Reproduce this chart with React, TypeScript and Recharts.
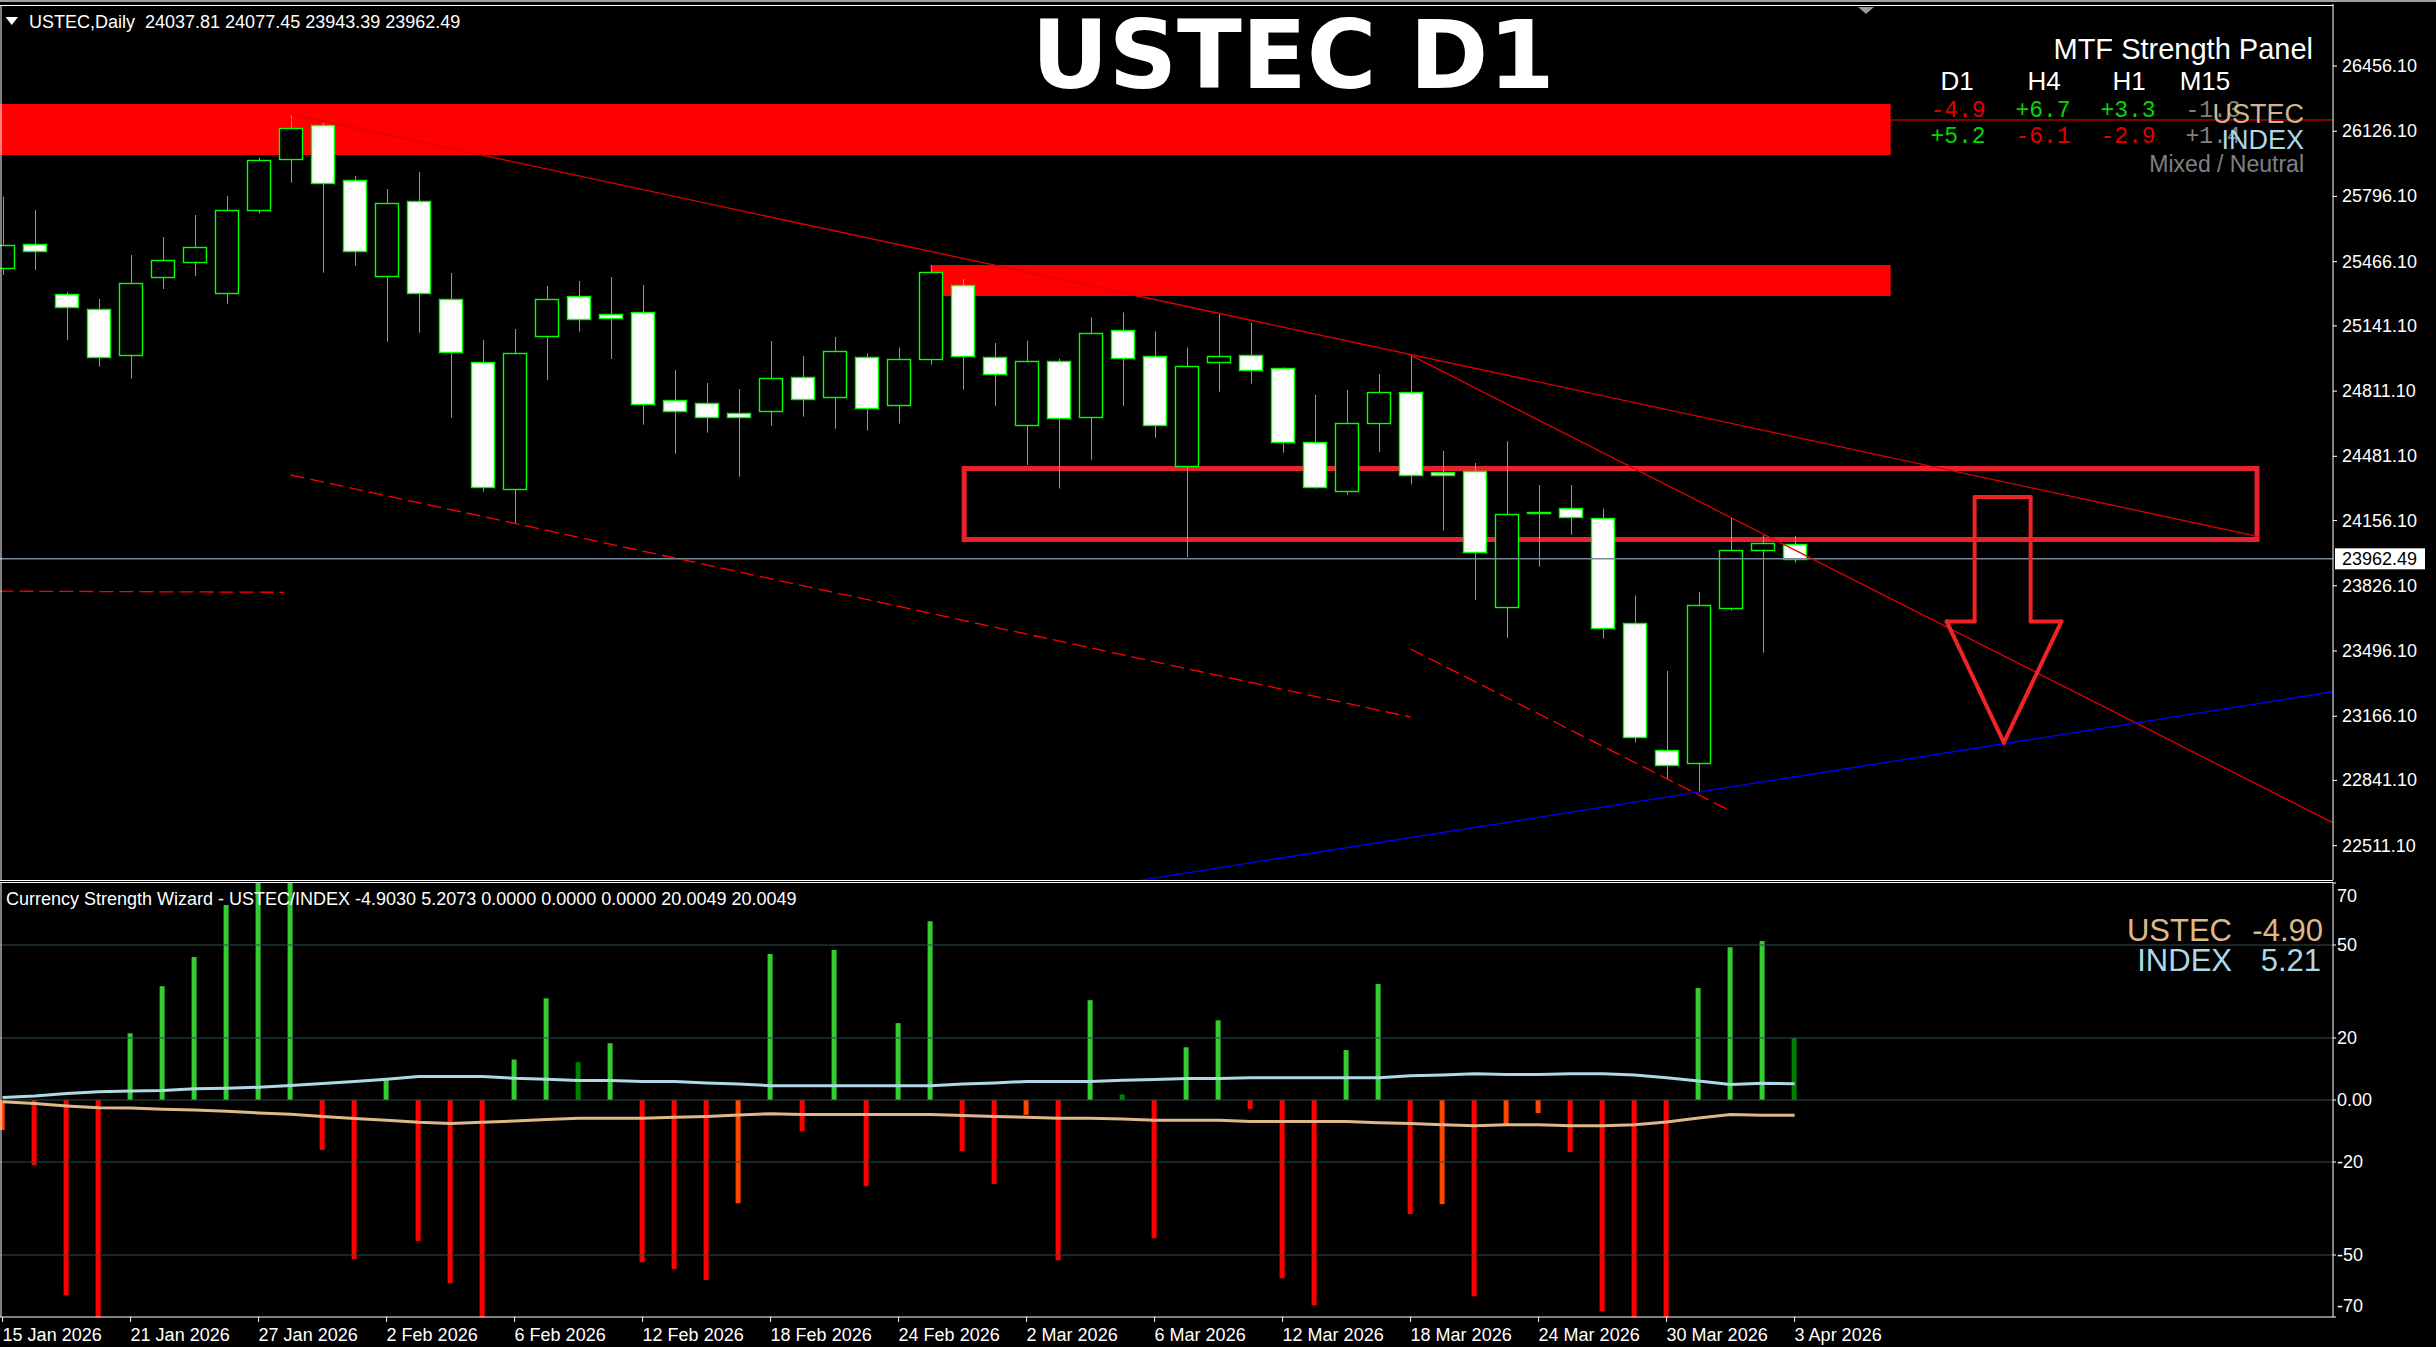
import React from 'react';
import { ComposedChart, Bar, Line, XAxis, YAxis, ReferenceLine, ReferenceArea, Cell } from 'recharts';

// ---------- data ----------
const DATE_LABELS = ['15 Jan 2026', '21 Jan 2026', '27 Jan 2026', '2 Feb 2026', '6 Feb 2026', '12 Feb 2026', '18 Feb 2026', '24 Feb 2026', '2 Mar 2026', '6 Mar 2026', '12 Mar 2026', '18 Mar 2026', '24 Mar 2026', '30 Mar 2026', '3 Apr 2026'];
const TICK_BARS = [0, 4, 8, 12, 16, 20, 24, 28, 32, 36, 40, 44, 48, 52, 56];

const OPEN = [25432.5, 25553.9, 25300.9, 25225.0, 24992.2, 25389.9, 25465.8, 25305.9, 25729.0, 25984.0, 26156.0, 25877.7, 25395.0, 25771.4, 25275.6, 24956.8, 24314.1, 25088.3, 25290.8, 25199.7, 25209.8, 24764.5, 24749.3, 24698.8, 24708.9, 24880.9, 24779.7, 24982.1, 24738.7, 24971.5, 25345.9, 24982.1, 24637.6, 24965.9, 24678.5, 25122.3, 24987.2, 24432.1, 24957.3, 24992.8, 24926.9, 24552.5, 24307.6, 24648.2, 24804.5, 24401.8, 24406.8, 23720.2, 24195.0, 24217.1, 24167.5, 23636.7, 22997.6, 22930.4, 23711.1, 24006.1, 24037.81];
const HIGH = [25794.8, 25727.5, 25311.0, 25277.1, 25499.8, 25590.8, 25702.1, 25798.3, 25992.3, 26213.2, 26169.2, 25899.5, 25833.7, 25919.7, 25408.7, 25069.7, 25125.4, 25342.9, 25368.2, 25388.4, 25348.0, 24917.9, 24852.1, 24821.7, 25064.6, 24988.7, 25084.9, 25001.3, 25031.7, 25449.2, 25378.3, 25054.5, 25065.6, 24975.0, 25184.5, 25209.3, 25113.3, 25031.7, 25200.2, 25157.7, 24930.5, 24791.8, 24816.7, 24896.6, 24992.8, 24508.0, 24447.3, 24557.6, 24335.9, 24335.9, 24217.1, 23776.8, 23395.3, 23794.6, 24172.5, 24081.9, 24077.45];
const LOW = [25398.6, 25423.9, 25069.7, 24934.5, 24873.8, 25327.7, 25393.5, 25253.3, 25708.8, 25865.6, 25410.2, 25445.6, 25061.0, 25106.5, 24676.5, 24302.1, 24142.0, 24867.3, 25111.6, 24973.5, 24641.0, 24494.4, 24600.6, 24378.0, 24636.0, 24682.0, 24619.9, 24611.2, 24646.6, 24944.6, 24818.6, 24735.7, 24437.1, 24318.3, 24463.4, 24735.7, 24575.2, 23971.6, 24808.1, 24849.1, 24499.4, 24318.3, 24286.3, 24502.9, 24339.5, 24105.3, 23754.1, 23562.3, 23922.7, 24083.9, 23558.7, 23033.0, 22845.3, 22782.6, 23700.4, 23487.4, 23943.39];
const CLOSE = [25548.9, 25518.4, 25235.1, 24982.2, 25356.5, 25472.9, 25538.7, 25725.9, 25979.0, 26140.9, 25862.6, 25521.5, 25761.4, 25305.9, 25007.4, 24324.4, 25002.4, 25275.6, 25174.4, 25179.5, 24744.3, 24708.9, 24678.5, 24678.5, 24875.9, 24769.2, 25011.9, 24728.1, 24971.5, 25411.7, 24987.2, 24900.1, 24965.9, 24673.0, 25102.6, 24976.6, 24637.6, 24936.1, 24987.2, 24919.9, 24552.5, 24326.8, 24648.2, 24804.5, 24389.0, 24389.0, 23995.4, 24188.6, 24199.0, 24172.5, 23613.4, 23063.3, 22921.2, 23727.3, 24006.1, 24041.6, 23962.49];

const HIST = [-9.7, -21.0, -63.0, -75, 21.5, 36.7, 46.1, 62.9, 75, 75, -16.1, -51.4, 6.4, -45.5, -59.1, -75, 13.1, 32.8, 12.2, 18.3, -52.3, -54.5, -58.1, -33.3, 47.1, -10.0, 48.4, -27.8, 24.8, 57.7, -16.5, -27.1, -4.8, -51.7, 32.2, 1.8, -44.6, 17.0, 25.7, -2.9, -57.5, -66.2, 16.1, 37.4, -36.8, -33.6, -63.3, -7.8, -4.2, -16.8, -68.2, -75, -75, 36.1, 49.3, 51.3, 20.0];
const HIST_TONE = ['weakDown', 'down', 'down', 'down', 'up', 'up', 'up', 'up', 'up', 'up', 'down', 'down', 'up', 'down', 'down', 'down', 'up', 'up', 'weakUp', 'up', 'down', 'down', 'down', 'weakDown', 'up', 'down', 'up', 'down', 'up', 'up', 'down', 'down', 'weakDown', 'down', 'up', 'weakUp', 'down', 'up', 'up', 'down', 'down', 'down', 'up', 'up', 'down', 'weakDown', 'down', 'weakDown', 'weakDown', 'down', 'down', 'down', 'down', 'up', 'up', 'up', 'weakUp'];
const INDEX_LINE = [0.8, 1.3, 2.1, 2.7, 2.9, 3.1, 3.6, 3.8, 4.1, 4.7, 5.3, 6.0, 6.7, 7.6, 7.6, 7.6, 7.0, 6.7, 6.3, 6.3, 6.0, 6.0, 5.5, 5.2, 4.6, 4.6, 4.6, 4.6, 4.6, 4.6, 5.2, 5.5, 6.0, 6.0, 6.0, 6.4, 6.6, 6.9, 6.9, 7.2, 7.2, 7.2, 7.2, 7.2, 7.8, 8.1, 8.5, 8.2, 8.2, 8.5, 8.5, 8.1, 7.2, 6.1, 5.0, 5.4, 5.21];
const USTEC_LINE = [-0.6, -1.1, -1.9, -2.5, -2.6, -3.0, -3.2, -3.6, -4.2, -4.6, -5.3, -6.0, -6.5, -7.2, -7.6, -7.2, -6.8, -6.3, -5.9, -5.9, -5.9, -5.6, -5.3, -4.8, -4.4, -4.7, -4.7, -4.7, -4.7, -4.7, -5.0, -5.3, -5.6, -5.9, -5.9, -6.1, -6.5, -6.5, -6.5, -6.9, -6.9, -6.9, -6.9, -7.3, -7.6, -8.0, -8.3, -8.0, -8.0, -8.3, -8.3, -8.0, -7.1, -5.8, -4.7, -4.9, -4.9];

const PRICE_TICKS = [26456.1, 26126.1, 25796.1, 25466.1, 25141.1, 24811.1, 24481.1, 24156.1, 23826.1, 23496.1, 23166.1, 22841.1, 22511.1];
const IND_TICKS = [70, 50, 20, 0, -20, -50, -70];
const IND_LEVELS = [50, 20, 0, -20, -50];
const CURRENT_PRICE = 23962.49;
const RESIST_LEVEL = 26183;
const HEADER_OHLC = [24037.81, 24077.45, 23943.39, 23962.49];
const IND_HEADER_VALUES = ['-4.9030', '5.2073', '0.0000', '0.0000', '0.0000', '20.0049', '20.0049'];
const MTF_FRAMES = ['D1', 'H4', 'H1', 'M15'];
const MTF_USTEC = [-4.9, 6.7, 3.3, -1.3];
const MTF_INDEX = [5.2, -6.1, -2.9, 1.4];
const STRENGTH_USTEC = -4.9;
const STRENGTH_INDEX = 5.21;

// annotations in (bar index, price)
const ZONES = [
  { i1: -0.1, i2: 59, p1: 26005.8, p2: 26263.8 },
  { i1: 29, i2: 59, p1: 25292.4, p2: 25449.2 },
];
const BOX = { i1: 30.05, i2: 70.45, p1: 24060.4, p2: 24419.7 };
const SOLID_LINES = [
  { a: [9, 26213.2], b: [70.5, 24074.9], color: '#e00000' },
  { a: [44, 24992.8], b: [72.8, 22628.6], color: '#e00000' },
  { a: [35.5, 22334.6], b: [72.85, 23290.5], color: '#0000ff' },
];
const DASHED_LINES = [
  { a: [9, 24386.6], b: [44, 23162.1] },
  { a: [44, 23506.1], b: [54, 22686.4] },
  { a: [-0.1, 23799], b: [8.8, 23793] },
];
const ARROW = [[61.625, 24275.2], [63.375, 24275.2], [63.375, 23645.8], [64.34, 23645.8], [62.54, 23032.5], [60.75, 23645.8], [61.625, 23645.8]];

// ---------- layout ----------
const X_DOMAIN: [number, number] = [-0.08125, 72.825];
const PRICE_DOMAIN: [number, number] = [22337.3, 26769.8];
const FONT = '"Liberation Sans", Arial, sans-serif';
const TONE_COLOR: Record<string, string> = { up: '#32CD32', weakUp: '#008000', down: '#FF0000', weakDown: '#FF4500' };

const candles = OPEN.map((o, i) => ({ i, open: o, high: HIGH[i], low: LOW[i], close: CLOSE[i], range: [LOW[i], HIGH[i]] }));
const indData = HIST.map((h, i) => ({ i, hist: h, idx: INDEX_LINE[i], ust: USTEC_LINE[i] }));
const tickLabel: Record<number, string> = {};
TICK_BARS.forEach((b, k) => { tickLabel[b] = DATE_LABELS[k]; });

const Candle = (props: any) => {
  const { x, y, width, height, payload } = props;
  if (!payload || x == null) return null;
  const top = Math.min(y, y + height);
  const h = Math.abs(height);
  const k = h / ((payload.high - payload.low) || 1);
  const cx = Math.round(x + width / 2) + 0.5;
  const yo = top + (payload.high - payload.open) * k;
  const yc = top + (payload.high - payload.close) * k;
  const bull = payload.close >= payload.open;
  const bt = Math.round(Math.min(yo, yc)) + 0.5;
  const bb = Math.max(Math.round(Math.max(yo, yc)) + 0.5, bt + 1);
  return (
    <g>
      <line x1={cx} x2={cx} y1={top} y2={top + h} stroke="#00FF00" strokeWidth={1} />
      <rect x={cx - 12} y={bt} width={23} height={bb - bt} fill={bull ? '#000' : '#fff'} stroke="#00FF00" strokeWidth={1.4} />
    </g>
  );
};

const PriceTick = (props: any) => {
  const { x, y, payload } = props;
  return <text x={x} y={y} dy={6} fill="#fff" fontSize={18} fontFamily={FONT}>{Number(payload.value).toFixed(2)}</text>;
};

const IndTick = (props: any) => {
  const { x, y, payload } = props;
  const v = payload.value;
  const dy = v === 70 ? 19 : v === -70 ? -5 : 6;
  return <text x={x} y={y} dy={dy} fill="#fff" fontSize={18} fontFamily={FONT}>{v === 0 ? '0.00' : String(v)}</text>;
};

const DateTick = (props: any) => {
  const { x, y, payload } = props;
  return <text x={x} y={y} dy={17} fill="#fff" fontSize={18} fontFamily={FONT} textAnchor="start">{tickLabel[payload.value]}</text>;
};

const PriceTag = (props: any) => {
  const vb = props.viewBox || {};
  const x = (vb.x || 0) + (vb.width || 0);
  const y = vb.y || 0;
  return (
    <g>
      <rect x={x + 2} y={y - 10.5} width={90} height={21} fill="#fff" />
      <text x={x + 9} y={y} dy={6} fill="#000" fontSize={18} fontFamily={FONT}>{CURRENT_PRICE.toFixed(2)}</text>
    </g>
  );
};

const fmtSigned = (v: number) => (v > 0 ? '+' : '-') + Math.abs(v).toFixed(1);
const mtfColor = (v: number) => (Math.abs(v) < 2 ? '#808080' : v > 0 ? '#00D800' : '#E00000');

export default function App() {
  const arrowSegs = ARROW.map((p, k) => [p, ARROW[(k + 1) % ARROW.length]]);
  return (
    <div style={{ position: 'absolute', left: 0, top: 0, width: 2436, height: 1347, background: '#000', overflow: 'hidden' }}>
      <div style={{ position: 'absolute', left: 0, top: 0 }}>
        <ComposedChart width={2436} height={882} data={candles} margin={{ top: 4, right: 0, bottom: 2, left: 0 }}>
          <XAxis type="number" dataKey="i" domain={X_DOMAIN} allowDataOverflow hide />
          <YAxis orientation="right" width={103} domain={PRICE_DOMAIN} allowDataOverflow ticks={PRICE_TICKS} interval={0}
            axisLine={{ stroke: '#fff' }} tickLine={{ stroke: '#fff' }} tickSize={4} tickMargin={5} tick={<PriceTick />} />
          <ReferenceLine y={CURRENT_PRICE} stroke="#778899" strokeWidth={1.5} label={<PriceTag />} />
          <ReferenceLine y={RESIST_LEVEL} stroke="#ff0000" strokeWidth={1} ifOverflow="hidden" />
          {SOLID_LINES.map((l, k) => (
            <ReferenceLine key={'s' + k} segment={[{ x: l.a[0], y: l.a[1] }, { x: l.b[0], y: l.b[1] }]} stroke={l.color} strokeWidth={1.3} ifOverflow="hidden" />
          ))}
          {DASHED_LINES.map((l, k) => (
            <ReferenceLine key={'d' + k} segment={[{ x: l.a[0], y: l.a[1] }, { x: l.b[0], y: l.b[1] }]} stroke="#ff0000" strokeWidth={1.3} strokeDasharray="14 6" ifOverflow="hidden" />
          ))}
          {ZONES.map((z, k) => (
            <ReferenceArea key={'z' + k} x1={z.i1} x2={z.i2} y1={z.p1} y2={z.p2} fill="#ff0000" fillOpacity={1} stroke="none" ifOverflow="hidden" />
          ))}
          <Bar dataKey="range" barSize={24} shape={<Candle />} isAnimationActive={false} />
          <ReferenceArea x1={BOX.i1} x2={BOX.i2} y1={BOX.p1} y2={BOX.p2} fill="none" fillOpacity={0} stroke="#E8222C" strokeWidth={5} ifOverflow="visible" />
          {arrowSegs.map((s, k) => (
            <ReferenceLine key={'a' + k} segment={[{ x: s[0][0], y: s[0][1] }, { x: s[1][0], y: s[1][1] }]} stroke="#F02424" strokeWidth={4} strokeLinecap="round" ifOverflow="visible" />
          ))}
        </ComposedChart>
      </div>

      <div style={{ position: 'absolute', left: 0, top: 880 }}>
        <ComposedChart width={2436} height={467} data={indData} margin={{ top: 3, right: 0, bottom: 0, left: 0 }}>
          <XAxis type="number" dataKey="i" domain={X_DOMAIN} allowDataOverflow ticks={TICK_BARS} interval={0} height={30}
            axisLine={{ stroke: '#fff' }} tickLine={{ stroke: '#fff' }} tickSize={5} tick={<DateTick />} />
          <YAxis orientation="right" width={103} domain={[-70, 70]} allowDataOverflow ticks={IND_TICKS} interval={0}
            axisLine={{ stroke: '#fff' }} tickLine={{ stroke: '#fff' }} tickSize={3} tickMargin={1} tick={<IndTick />} />
          {IND_LEVELS.map((v) => (
            <ReferenceLine key={'lv' + v} y={v} stroke="#2F4F4F" strokeWidth={1.2} />
          ))}
          <Bar dataKey="hist" barSize={5} isAnimationActive={false}>
            {indData.map((d, k) => <Cell key={k} fill={TONE_COLOR[HIST_TONE[k]]} />)}
          </Bar>
          <Line dataKey="idx" stroke="#ADD8E6" strokeWidth={3} dot={false} activeDot={false} isAnimationActive={false} type="linear" />
          <Line dataKey="ust" stroke="#DEB887" strokeWidth={3} dot={false} activeDot={false} isAnimationActive={false} type="linear" />
        </ComposedChart>
      </div>

      <svg width={2436} height={1347} style={{ position: 'absolute', left: 0, top: 0, pointerEvents: 'none' }}>
        <rect x={0} y={0} width={2436} height={2} fill="#A0A0A0" />
        <line x1={0} x2={2333} y1={5.5} y2={5.5} stroke="#fff" />
        <line x1={1} x2={1} y1={5} y2={880} stroke="#fff" />
        <line x1={0} x2={2333} y1={880.5} y2={880.5} stroke="#fff" />
        <line x1={0} x2={2333} y1={882.5} y2={882.5} stroke="#fff" />
        <line x1={1} x2={1} y1={882} y2={1317} stroke="#fff" />
        <polygon points="1858,7 1874,7 1866,14" fill="#9A9A9A" />
        <polygon points="5.5,17 18,17 11.7,25" fill="#fff" />
        <text x={29} y={28} fill="#fff" fontSize={18} fontFamily={FONT} style={{ whiteSpace: 'pre' }}>
          {'USTEC,Daily  ' + HEADER_OHLC.map((v) => v.toFixed(2)).join(' ')}
        </text>
        <text x={1293} y={88} fill="#fff" fontSize={95} fontWeight="bold" fontFamily='"DejaVu Sans", sans-serif' textAnchor="middle">USTEC D1</text>

        <text x={2313} y={59} fill="#fff" fontSize={29} fontFamily={FONT} textAnchor="end">MTF Strength Panel</text>
        {MTF_FRAMES.map((f, k) => (
          <text key={'h' + k} x={[1957, 2044, 2129, 2205][k]} y={90} fill="#fff" fontSize={26} fontFamily={FONT} textAnchor="middle">{f}</text>
        ))}
        {MTF_USTEC.map((v, k) => (
          <text key={'u' + k} x={[1958, 2043, 2128, 2213][k]} y={117} fill={mtfColor(v)} fontSize={23} fontFamily='"Liberation Mono", monospace' textAnchor="middle">{fmtSigned(v)}</text>
        ))}
        {MTF_INDEX.map((v, k) => (
          <text key={'n' + k} x={[1958, 2043, 2128, 2213][k]} y={143} fill={mtfColor(v)} fontSize={23} fontFamily='"Liberation Mono", monospace' textAnchor="middle">{fmtSigned(v)}</text>
        ))}
        <text x={2304} y={123} fill="#D2B48C" fontSize={27} fontFamily={FONT} textAnchor="end">USTEC</text>
        <text x={2304} y={149} fill="#ADD8E6" fontSize={27} fontFamily={FONT} textAnchor="end">INDEX</text>
        <text x={2304} y={172} fill="#808080" fontSize={23} fontFamily={FONT} textAnchor="end">Mixed / Neutral</text>

        <text x={6} y={905} fill="#fff" fontSize={18} fontFamily={FONT}>
          {'Currency Strength Wizard - USTEC/INDEX ' + IND_HEADER_VALUES.join(' ')}
        </text>
        <text x={2232} y={941} fill="#DEB887" fontSize={31} fontFamily={FONT} textAnchor="end">USTEC</text>
        <text x={2323} y={941} fill="#DEB887" fontSize={31} fontFamily={FONT} textAnchor="end">{STRENGTH_USTEC.toFixed(2)}</text>
        <text x={2232} y={971} fill="#ADD8E6" fontSize={31} fontFamily={FONT} textAnchor="end">INDEX</text>
        <text x={2321} y={971} fill="#ADD8E6" fontSize={31} fontFamily={FONT} textAnchor="end">{STRENGTH_INDEX.toFixed(2)}</text>
      </svg>
    </div>
  );
}
